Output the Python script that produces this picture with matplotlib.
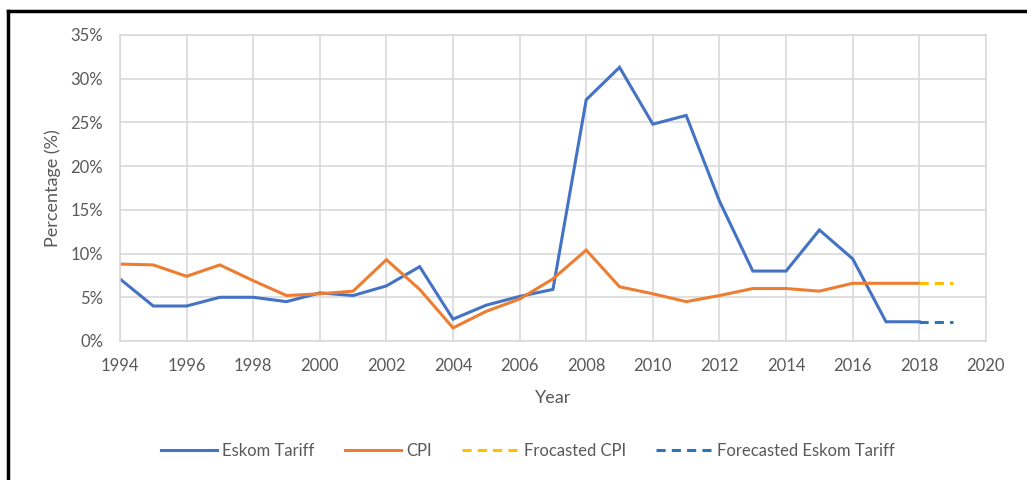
import matplotlib

matplotlib.use("Agg")
import matplotlib.pyplot as plt
from matplotlib.lines import Line2D
from matplotlib.ticker import MultipleLocator, PercentFormatter

plt.rcParams["font.family"] = ["Lato", "DejaVu Sans"]

# Annual increases (%)
years = list(range(1994, 2019))
eskom_tariff = [7.1, 4.0, 4.0, 5.0, 5.0, 4.5, 5.5, 5.2, 6.3, 8.5, 2.5, 4.1, 5.1,
                5.9, 27.6, 31.3, 24.8, 25.8, 16.0, 8.0, 8.0, 12.7, 9.4, 2.2, 2.2]
cpi = [8.8, 8.7, 7.4, 8.7, 6.9, 5.2, 5.4, 5.7, 9.3, 5.9, 1.5, 3.4, 4.8,
       7.1, 10.4, 6.2, 5.4, 4.5, 5.2, 6.0, 6.0, 5.7, 6.6, 6.6, 6.6]

forecast_years = [2018, 2019]
forecast_cpi = [6.6, 6.6]
forecast_eskom = [2.2, 2.2]

BLUE = "#4472C4"
ORANGE = "#ED7D31"
YELLOW = "#FFC000"
DARK_BLUE = "#2E75B6"
GRID = "#D9D9D9"
TEXT = "#595959"

fig = plt.figure(figsize=(10.27, 4.80), dpi=100)
ax = fig.add_axes([0.1168, 0.2896, 0.8432, 0.6375])

ax.plot(years, eskom_tariff, color=BLUE, lw=2.2, solid_joinstyle="miter")
ax.plot(years, cpi, color=ORANGE, lw=2.2, solid_joinstyle="miter")
ax.plot(forecast_years, forecast_cpi, color=YELLOW, lw=2.2, ls=(0, (3, 2)))
ax.plot(forecast_years, forecast_eskom, color=DARK_BLUE, lw=2.2, ls=(0, (3, 2)))

ax.set_xlim(1994, 2020)
ax.set_ylim(0, 35)
ax.xaxis.set_major_locator(MultipleLocator(2))
ax.yaxis.set_major_locator(MultipleLocator(5))
ax.yaxis.set_major_formatter(PercentFormatter(decimals=0))
ax.grid(True, color=GRID, lw=1.2)
ax.set_axisbelow(True)
for side in ax.spines.values():
    side.set_color(GRID)
    side.set_linewidth(1.2)
ax.tick_params(length=0, labelsize=12, labelcolor=TEXT)
ax.tick_params(axis="x", pad=12)
ax.tick_params(axis="y", pad=12)

ax.set_xlabel("Year", fontsize=13, color=TEXT, labelpad=12)
ax.set_ylabel("Percentage (%)", fontsize=13, color=TEXT, labelpad=7)

handles = [
    Line2D([], [], color=BLUE, lw=2.2),
    Line2D([], [], color=ORANGE, lw=2.2),
    Line2D([], [], color=YELLOW, lw=2.2, ls=(0, (3, 2))),
    Line2D([], [], color=DARK_BLUE, lw=2.2, ls=(0, (3, 2))),
]
labels = ["Eskom Tariff", "CPI", "Frocasted CPI", "Forecasted Eskom Tariff"]
leg = fig.legend(handles, labels, loc="center", bbox_to_anchor=(0.514, 0.06),
                 ncol=4, frameon=False, fontsize=12, handlelength=3.4,
                 columnspacing=1.8, handletextpad=0.3)
for t in leg.get_texts():
    t.set_color(TEXT)

# black frame around the chart (left and top edges visible in the reference)
fig.add_artist(Line2D([0.008, 0.008], [0.0, 0.978], color="black", lw=2.5,
                      transform=fig.transFigure))
fig.add_artist(Line2D([0.008, 1.0], [0.978, 0.978], color="black", lw=2.5,
                      transform=fig.transFigure))

fig.savefig("out.png", dpi=100)
